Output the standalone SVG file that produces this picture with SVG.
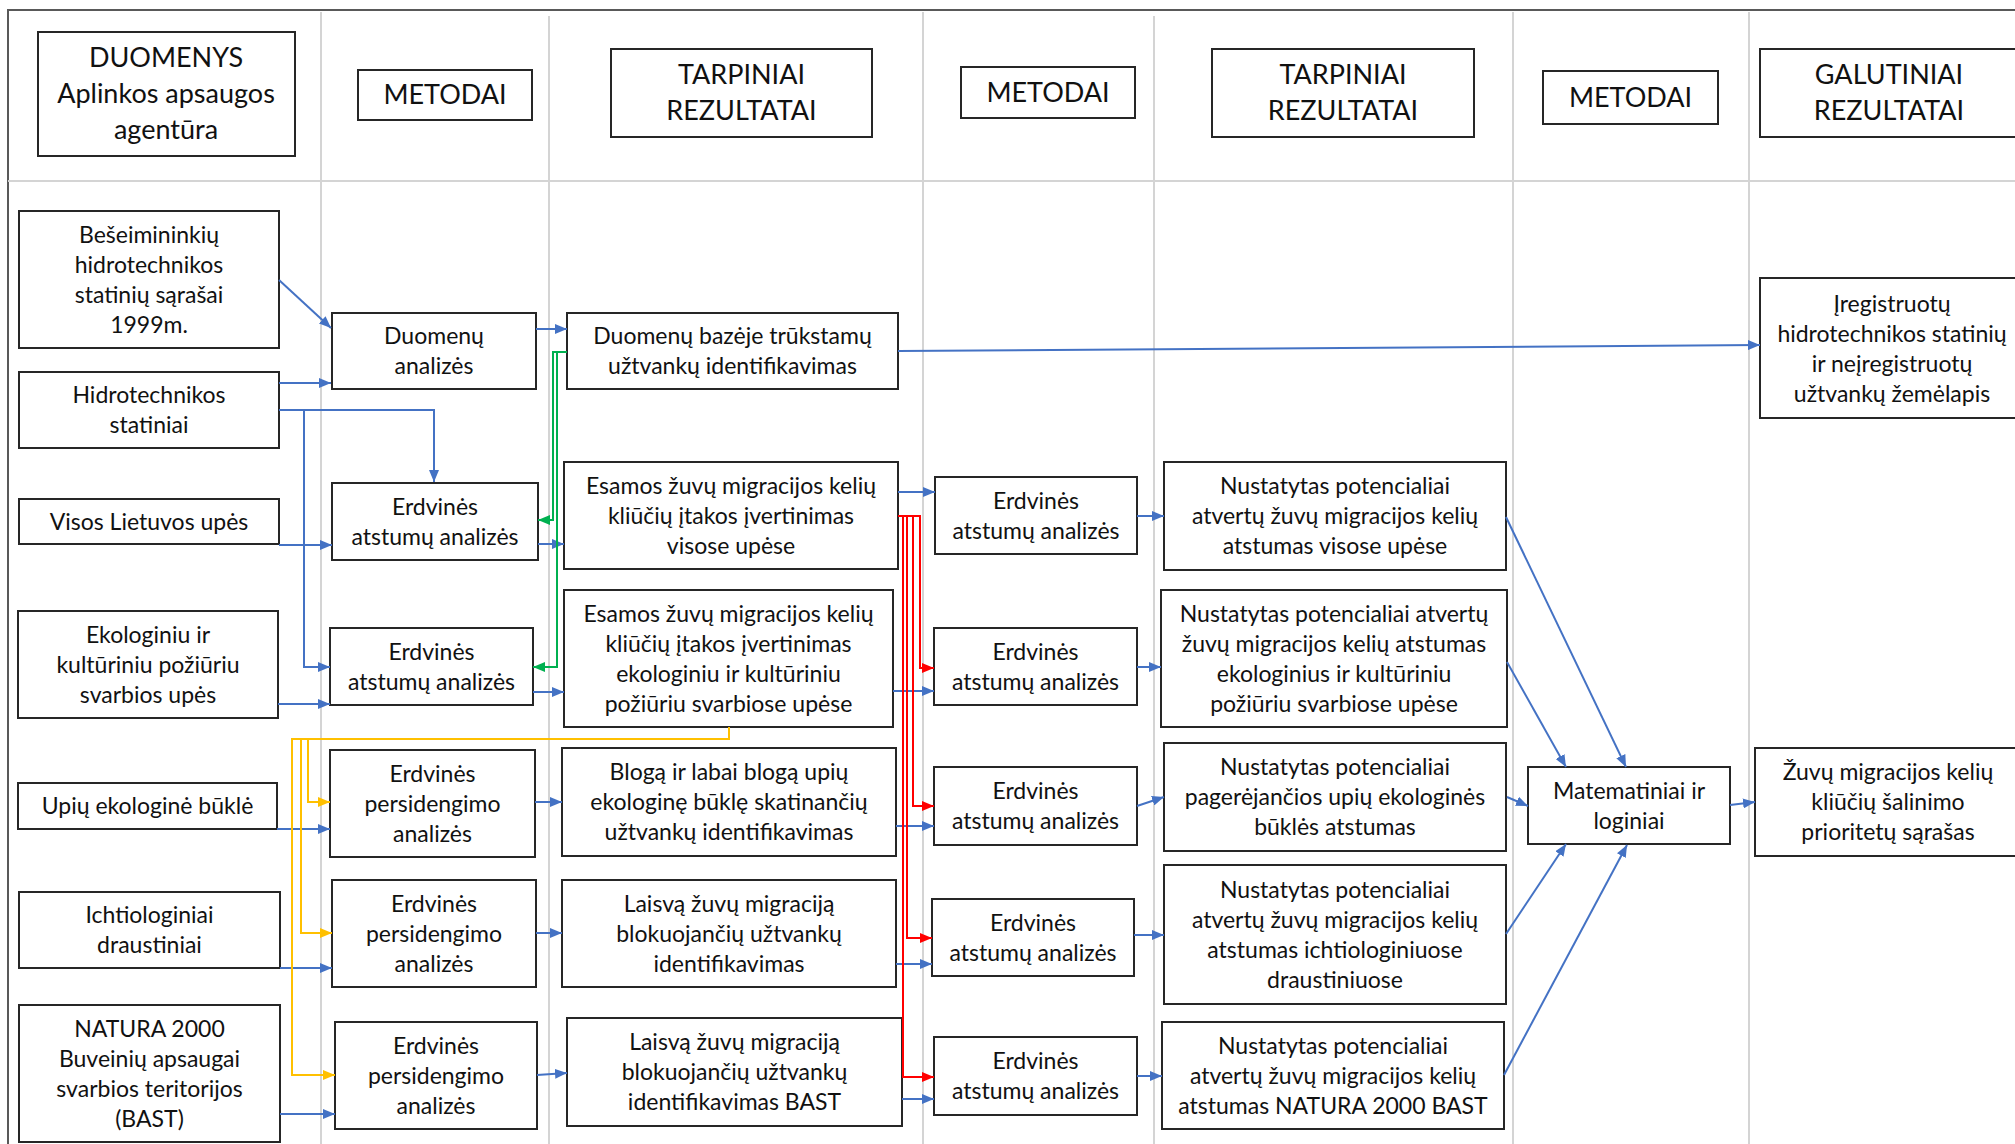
<svg xmlns="http://www.w3.org/2000/svg" width="2015" height="1144" viewBox="0 0 2015 1144">
<style>
.frame{fill:none;stroke:#595959;stroke-width:2}
.lane{stroke:#d4d4d4;stroke-width:2;fill:none}
.box{fill:#fff;stroke:#262626;stroke-width:2}
.t{font-family:Lato,"Liberation Sans",sans-serif;font-size:23px;fill:#111;text-anchor:middle}
.h{font-size:27px}
.c{fill:none;stroke-width:2}
.blue{stroke:#4472C4;marker-end:url(#ab)}
.green{stroke:#00B050;marker-end:url(#ag)}
.red{stroke:#FF0000;marker-end:url(#ar)}
.yel{stroke:#FFC000;marker-end:url(#ay)}
</style>
<defs>
<marker id="ab" markerUnits="userSpaceOnUse" markerWidth="12" markerHeight="10" viewBox="0 0 12 10" refX="12" refY="5" orient="auto"><path d="M0,0 L12,5 L0,10 z" fill="#4472C4"/></marker>
<marker id="ag" markerUnits="userSpaceOnUse" markerWidth="12" markerHeight="10" viewBox="0 0 12 10" refX="12" refY="5" orient="auto"><path d="M0,0 L12,5 L0,10 z" fill="#00B050"/></marker>
<marker id="ar" markerUnits="userSpaceOnUse" markerWidth="12" markerHeight="10" viewBox="0 0 12 10" refX="12" refY="5" orient="auto"><path d="M0,0 L12,5 L0,10 z" fill="#FF0000"/></marker>
<marker id="ay" markerUnits="userSpaceOnUse" markerWidth="12" markerHeight="10" viewBox="0 0 12 10" refX="12" refY="5" orient="auto"><path d="M0,0 L12,5 L0,10 z" fill="#FFC000"/></marker>
</defs>
<rect width="2015" height="1144" fill="#fff"/>
<g id="lanes">
<rect class="frame" x="8" y="10" width="2040" height="1170"/>
<path class="lane" d="M8,181 H2015 M321,12 V1144 M549,16 V1144 M923,12 V1144 M1154,16 V1144 M1513,12 V1144 M1749,12 V1144"/>
</g>
<g id="headers">
<g id="h-duomenys"><rect class="box" x="38" y="32" width="257" height="124"/><text class="t h"><tspan x="166" y="67">DUOMENYS</tspan><tspan x="166" y="103">Aplinkos apsaugos</tspan><tspan x="166" y="139">agentūra</tspan></text></g>
<g id="h-metodai1"><rect class="box" x="358" y="70" width="174" height="50"/><text class="t h" x="445" y="104">METODAI</text></g>
<g id="h-tarpiniai1"><rect class="box" x="611" y="49" width="261" height="88"/><text class="t h"><tspan x="741.5" y="84">TARPINIAI</tspan><tspan x="741.5" y="120">REZULTATAI</tspan></text></g>
<g id="h-metodai2"><rect class="box" x="961" y="67" width="174" height="51"/><text class="t h" x="1048" y="101.5">METODAI</text></g>
<g id="h-tarpiniai2"><rect class="box" x="1212" y="49" width="262" height="88"/><text class="t h"><tspan x="1343" y="84">TARPINIAI</tspan><tspan x="1343" y="120">REZULTATAI</tspan></text></g>
<g id="h-metodai3"><rect class="box" x="1543" y="71" width="175" height="53"/><text class="t h" x="1630.5" y="106.5">METODAI</text></g>
<g id="h-galutiniai"><rect class="box" x="1760" y="49" width="258" height="88"/><text class="t h"><tspan x="1889" y="84">GALUTINIAI</tspan><tspan x="1889" y="120">REZULTATAI</tspan></text></g>
</g>
<g id="nodes">
<g id="n1"><rect class="box" x="19" y="211" width="260" height="137"/><text class="t"><tspan x="149" y="242.5">Bešeimininkių</tspan><tspan x="149" y="272.5">hidrotechnikos</tspan><tspan x="149" y="302.5">statinių sąrašai</tspan><tspan x="149" y="332.5">1999m.</tspan></text></g>
<g id="n2"><rect class="box" x="19" y="372" width="260" height="76"/><text class="t"><tspan x="149" y="403">Hidrotechnikos</tspan><tspan x="149" y="433">statiniai</tspan></text></g>
<g id="n3"><rect class="box" x="19" y="499" width="260" height="45"/><text class="t" x="149" y="529.5">Visos Lietuvos upės</text></g>
<g id="n4"><rect class="box" x="18" y="611" width="260" height="107"/><text class="t"><tspan x="148" y="642.5">Ekologiniu ir</tspan><tspan x="148" y="672.5">kultūriniu požiūriu</tspan><tspan x="148" y="702.5">svarbios upės</tspan></text></g>
<g id="n5"><rect class="box" x="18" y="783" width="259" height="46"/><text class="t" x="147.5" y="814">Upių ekologinė būklė</text></g>
<g id="n6"><rect class="box" x="19" y="892" width="261" height="76"/><text class="t"><tspan x="149.5" y="923">Ichtiologiniai</tspan><tspan x="149.5" y="953">draustiniai</tspan></text></g>
<g id="n7"><rect class="box" x="19" y="1005" width="261" height="137"/><text class="t"><tspan x="149.5" y="1036.5">NATURA 2000</tspan><tspan x="149.5" y="1066.5">Buveinių apsaugai</tspan><tspan x="149.5" y="1096.5">svarbios teritorijos</tspan><tspan x="149.5" y="1126.5">(BAST)</tspan></text></g>
<g id="n8"><rect class="box" x="332" y="313" width="204" height="76"/><text class="t"><tspan x="434" y="344">Duomenų</tspan><tspan x="434" y="374">analizės</tspan></text></g>
<g id="n9"><rect class="box" x="332" y="483" width="206" height="77"/><text class="t"><tspan x="435" y="514.5">Erdvinės</tspan><tspan x="435" y="544.5">atstumų analizės</tspan></text></g>
<g id="n10"><rect class="box" x="330" y="628" width="203" height="77"/><text class="t"><tspan x="431.5" y="659.5">Erdvinės</tspan><tspan x="431.5" y="689.5">atstumų analizės</tspan></text></g>
<g id="n11"><rect class="box" x="330" y="750" width="205" height="107"/><text class="t"><tspan x="432.5" y="781.5">Erdvinės</tspan><tspan x="432.5" y="811.5">persidengimo</tspan><tspan x="432.5" y="841.5">analizės</tspan></text></g>
<g id="n12"><rect class="box" x="332" y="880" width="204" height="107"/><text class="t"><tspan x="434" y="911.5">Erdvinės</tspan><tspan x="434" y="941.5">persidengimo</tspan><tspan x="434" y="971.5">analizės</tspan></text></g>
<g id="n13"><rect class="box" x="335" y="1022" width="202" height="107"/><text class="t"><tspan x="436" y="1053.5">Erdvinės</tspan><tspan x="436" y="1083.5">persidengimo</tspan><tspan x="436" y="1113.5">analizės</tspan></text></g>
<g id="n14"><rect class="box" x="567" y="313" width="331" height="76"/><text class="t"><tspan x="732.5" y="344">Duomenų bazėje trūkstamų</tspan><tspan x="732.5" y="374">užtvankų identifikavimas</tspan></text></g>
<g id="n15"><rect class="box" x="564" y="462" width="334" height="107"/><text class="t"><tspan x="731" y="493.5">Esamos žuvų migracijos kelių</tspan><tspan x="731" y="523.5">kliūčių įtakos įvertinimas</tspan><tspan x="731" y="553.5">visose upėse</tspan></text></g>
<g id="n16"><rect class="box" x="564" y="590" width="329" height="137"/><text class="t"><tspan x="728.5" y="621.5">Esamos žuvų migracijos kelių</tspan><tspan x="728.5" y="651.5">kliūčių įtakos įvertinimas</tspan><tspan x="728.5" y="681.5">ekologiniu ir kultūriniu</tspan><tspan x="728.5" y="711.5">požiūriu svarbiose upėse</tspan></text></g>
<g id="n17"><rect class="box" x="562" y="748" width="334" height="108"/><text class="t"><tspan x="729" y="780">Blogą ir labai blogą upių</tspan><tspan x="729" y="810">ekologinę būklę skatinančių</tspan><tspan x="729" y="840">užtvankų identifikavimas</tspan></text></g>
<g id="n18"><rect class="box" x="562" y="880" width="334" height="107"/><text class="t"><tspan x="729" y="911.5">Laisvą žuvų migraciją</tspan><tspan x="729" y="941.5">blokuojančių užtvankų</tspan><tspan x="729" y="971.5">identifikavimas</tspan></text></g>
<g id="n19"><rect class="box" x="567" y="1018" width="335" height="108"/><text class="t"><tspan x="734.5" y="1050">Laisvą žuvų migraciją</tspan><tspan x="734.5" y="1080">blokuojančių užtvankų</tspan><tspan x="734.5" y="1110">identifikavimas BAST</tspan></text></g>
<g id="n20"><rect class="box" x="935" y="477" width="202" height="77"/><text class="t"><tspan x="1036" y="508.5">Erdvinės</tspan><tspan x="1036" y="538.5">atstumų analizės</tspan></text></g>
<g id="n21"><rect class="box" x="934" y="628" width="203" height="77"/><text class="t"><tspan x="1035.5" y="659.5">Erdvinės</tspan><tspan x="1035.5" y="689.5">atstumų analizės</tspan></text></g>
<g id="n22"><rect class="box" x="934" y="767" width="203" height="78"/><text class="t"><tspan x="1035.5" y="799">Erdvinės</tspan><tspan x="1035.5" y="829">atstumų analizės</tspan></text></g>
<g id="n23"><rect class="box" x="932" y="899" width="202" height="77"/><text class="t"><tspan x="1033" y="930.5">Erdvinės</tspan><tspan x="1033" y="960.5">atstumų analizės</tspan></text></g>
<g id="n24"><rect class="box" x="934" y="1037" width="203" height="78"/><text class="t"><tspan x="1035.5" y="1069">Erdvinės</tspan><tspan x="1035.5" y="1099">atstumų analizės</tspan></text></g>
<g id="n25"><rect class="box" x="1164" y="462" width="342" height="108"/><text class="t"><tspan x="1335" y="494">Nustatytas potencialiai</tspan><tspan x="1335" y="524">atvertų žuvų migracijos kelių</tspan><tspan x="1335" y="554">atstumas visose upėse</tspan></text></g>
<g id="n26"><rect class="box" x="1161" y="590" width="346" height="137"/><text class="t"><tspan x="1334" y="621.5">Nustatytas potencialiai atvertų</tspan><tspan x="1334" y="651.5">žuvų migracijos kelių atstumas</tspan><tspan x="1334" y="681.5">ekologinius ir kultūriniu</tspan><tspan x="1334" y="711.5">požiūriu svarbiose upėse</tspan></text></g>
<g id="n27"><rect class="box" x="1164" y="743" width="342" height="108"/><text class="t"><tspan x="1335" y="775">Nustatytas potencialiai</tspan><tspan x="1335" y="805">pagerėjančios upių ekologinės</tspan><tspan x="1335" y="835">būklės atstumas</tspan></text></g>
<g id="n28"><rect class="box" x="1164" y="865" width="342" height="139"/><text class="t"><tspan x="1335" y="897.5">Nustatytas potencialiai</tspan><tspan x="1335" y="927.5">atvertų žuvų migracijos kelių</tspan><tspan x="1335" y="957.5">atstumas ichtiologiniuose</tspan><tspan x="1335" y="987.5">draustiniuose</tspan></text></g>
<g id="n29"><rect class="box" x="1162" y="1022" width="342" height="107"/><text class="t"><tspan x="1333" y="1053.5">Nustatytas potencialiai</tspan><tspan x="1333" y="1083.5">atvertų žuvų migracijos kelių</tspan><tspan x="1333" y="1113.5">atstumas NATURA 2000 BAST</tspan></text></g>
<g id="n30"><rect class="box" x="1528" y="767" width="202" height="77"/><text class="t"><tspan x="1629" y="798.5">Matematiniai ir</tspan><tspan x="1629" y="828.5">loginiai</tspan></text></g>
<g id="n31"><rect class="box" x="1760" y="278" width="264" height="140"/><text class="t"><tspan x="1892" y="312">Įregistruotų</tspan><tspan x="1892" y="342">hidrotechnikos statinių</tspan><tspan x="1892" y="372">ir neįregistruotų</tspan><tspan x="1892" y="402">užtvankų žemėlapis</tspan></text></g>
<g id="n32"><rect class="box" x="1755" y="748" width="266" height="108"/><text class="t"><tspan x="1888" y="780">Žuvų migracijos kelių</tspan><tspan x="1888" y="810">kliūčių šalinimo</tspan><tspan x="1888" y="840">prioritetų sąrašas</tspan></text></g>
</g>
<g id="connectors">
<path class="c blue" d="M279,280 L331,328"/>
<path class="c blue" d="M279,383 L331,383"/>
<path class="c blue" d="M279,410 L434,410 L434,482"/>
<path class="c blue" d="M304,410 L304,667 L330,667"/>
<path class="c blue" d="M279,545 L332,545"/>
<path class="c blue" d="M278,704 L330,704"/>
<path class="c blue" d="M277,829 L330,829"/>
<path class="c blue" d="M280,968 L332,968"/>
<path class="c blue" d="M280,1114 L335,1114"/>
<path class="c blue" d="M536,329 L567,329"/>
<path class="c blue" d="M538,544 L564,544"/>
<path class="c blue" d="M533,692 L564,692"/>
<path class="c blue" d="M535,802 L562,802"/>
<path class="c blue" d="M536,933 L562,933"/>
<path class="c blue" d="M537,1075 L567,1073"/>
<path class="c blue" d="M898,351 L1760,345"/>
<path class="c blue" d="M898,492 L935,492"/>
<path class="c blue" d="M893,691 L934,691"/>
<path class="c blue" d="M896,826 L934,826"/>
<path class="c blue" d="M896,964 L932,964"/>
<path class="c blue" d="M902,1099 L934,1099"/>
<path class="c blue" d="M1137,516 L1164,516"/>
<path class="c blue" d="M1137,667 L1161,667"/>
<path class="c blue" d="M1137,806 L1164,797"/>
<path class="c blue" d="M1134,935 L1164,935"/>
<path class="c blue" d="M1137,1076 L1162,1076"/>
<path class="c blue" d="M1506,517 L1626,767"/>
<path class="c blue" d="M1507,662 L1566,767"/>
<path class="c blue" d="M1507,797 L1528,806"/>
<path class="c blue" d="M1506,934 L1566,844"/>
<path class="c blue" d="M1504,1075 L1627,845"/>
<path class="c blue" d="M1730,805 L1755,802"/>
<path class="c green" d="M567,352 L553,352 L553,520 L538,520"/>
<path class="c green" d="M567,352 L557,352 L557,667 L533,667"/>
<path class="c red" d="M898,516 L920,516 L920,668 L934,668"/>
<path class="c red" d="M898,516 L913,516 L913,806 L934,806"/>
<path class="c red" d="M898,516 L907,516 L907,938 L932,938"/>
<path class="c red" d="M898,516 L903,516 L903,1077 L934,1077"/>
<path class="c yel" d="M729,727 L729,739 L308,739 L308,802 L330,802"/>
<path class="c yel" d="M729,727 L729,739 L301,739 L301,933 L332,933"/>
<path class="c yel" d="M729,727 L729,739 L292,739 L292,1075 L335,1075"/>
</g>
</svg>
